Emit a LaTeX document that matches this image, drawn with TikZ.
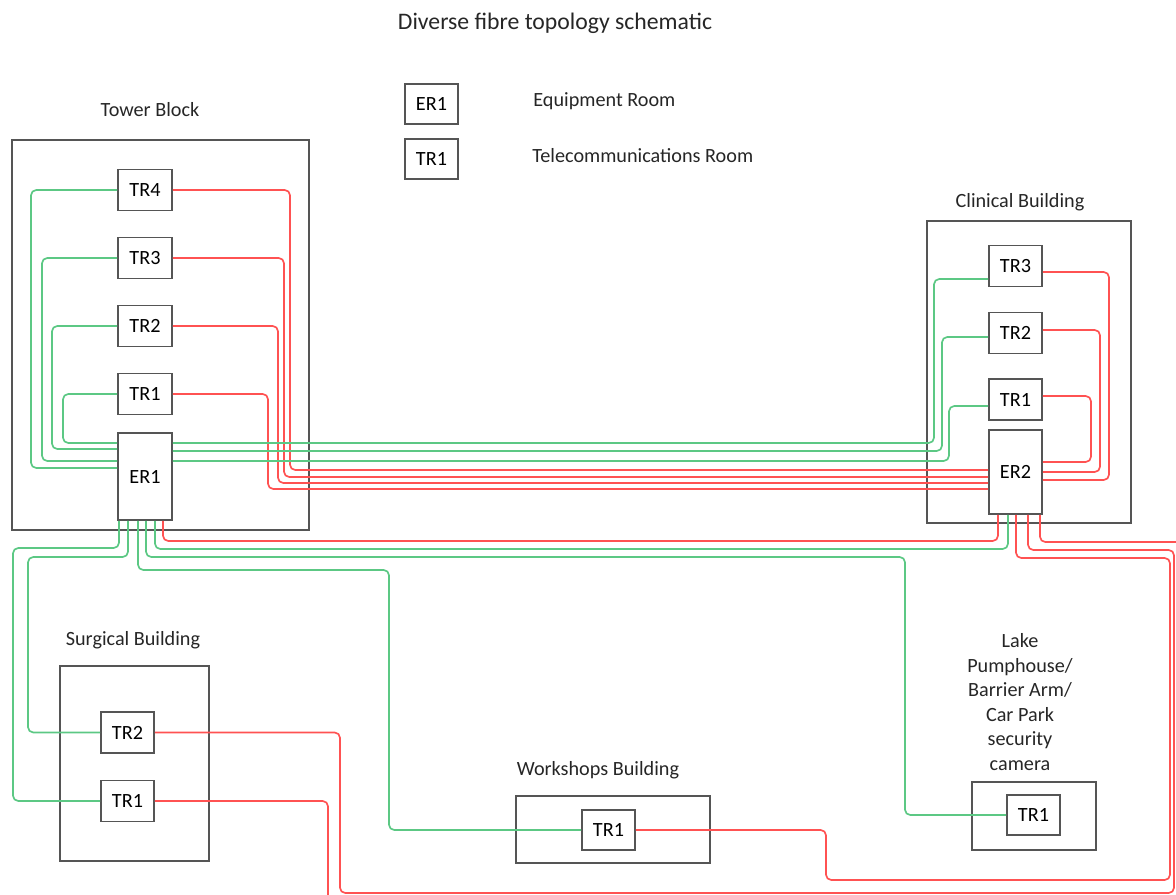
\documentclass[tikz,border=0pt]{standalone}
\usepackage{fontspec}
\setmainfont{Carlito}
\definecolor{fibregreen}{RGB}{92,200,132}
\definecolor{fibrered}{RGB}{255,82,82}
\definecolor{boxgrey}{RGB}{85,85,85}

\tikzset{
	room/.style={draw=boxgrey, fill=white, line width=1pt, inner sep=0pt,
		minimum width=1.08cm, minimum height=0.82cm},
	block/.style={draw=boxgrey, line width=1pt, inner sep=0pt},
	lbl/.style={text=black!85, inner sep=0pt},
	gline/.style={fibregreen, line width=0.95pt, rounded corners=3pt},
	rline/.style={fibrered, line width=0.95pt, rounded corners=3pt}
}

\begin{document}
\begin{tikzpicture}[x=0.02cm, y=-0.02cm, font=\fontsize{11.5}{14}\selectfont]
	\useasboundingbox (0,0) rectangle (1176,895);
	\clip (0,0) rectangle (1176,895);

	% title and legend
	\node [lbl, font=\fontsize{13.5}{16}\selectfont] (title) at (555,23) {Diverse fibre topology schematic};
	\node [room, minimum width=1.06cm, minimum height=0.8cm] (leger) at (431.5,104) {ER1};
	\node [room, minimum width=1.06cm, minimum height=0.8cm] (legtr) at (431.5,159) {TR1};
	\node [lbl, anchor=west] (legertxt) at (533,101) {Equipment Room};
	\node [lbl, anchor=west] (legtrtxt) at (532,156) {Telecommunications Room};

	% buildings
	\node [block, minimum width=5.94cm, minimum height=7.8cm] (tower) at (160.5,335) {};
	\node [lbl] (towerlbl) at (150,110) {Tower Block};
	\node [block, minimum width=4.08cm, minimum height=6.04cm] (clin) at (1029,372) {};
	\node [lbl] (clinlbl) at (1020,202) {Clinical Building};
	\node [block, minimum width=2.98cm, minimum height=3.9cm] (surg) at (134.5,763.5) {};
	\node [lbl] (surglbl) at (133,640) {Surgical Building};
	\node [block, minimum width=3.88cm, minimum height=1.34cm] (wshop) at (613,829.5) {};
	\node [lbl] (wshoplbl) at (598,770) {Workshops Building};
	\node [block, minimum width=2.48cm, minimum height=1.36cm] (lake) at (1034,816) {};
	\node [lbl, align=center, font=\fontsize{11.5}{13.95}\selectfont] (lakelbl) at (1020,702)
		{Lake\\Pumphouse/\\Barrier Arm/\\Car Park\\security\\camera};

	% rooms
	\node [room] (tr4) at (145,190) {TR4};
	\node [room] (tr3) at (145,258) {TR3};
	\node [room] (tr2) at (145,326) {TR2};
	\node [room] (tr1) at (145,394) {TR1};
	\node [room, minimum height=1.74cm] (er1) at (145,476.5) {ER1};

	\node [room, minimum width=1.06cm] (ctr3) at (1015.5,266) {TR3};
	\node [room, minimum width=1.06cm] (ctr2) at (1015.5,333) {TR2};
	\node [room, minimum width=1.06cm] (ctr1) at (1015.5,399.5) {TR1};
	\node [room, minimum width=1.06cm, minimum height=1.68cm] (er2) at (1015.5,472) {ER2};

	\node [room, minimum width=1.06cm] (str2) at (127.5,732.5) {TR2};
	\node [room, minimum width=1.06cm] (str1) at (127.5,801) {TR1};
	\node [room, minimum width=1.06cm, minimum height=0.8cm] (wtr1) at (608.5,830) {TR1};
	\node [room, minimum width=1.06cm, minimum height=0.8cm] (ltr1) at (1033.5,815) {TR1};

	% tower block fibres
	\draw [gline] (tr4.west) -| (31,468) -- (er1.west |- 0,468);
	\draw [gline] (tr3.west) -| (42,461) -- (er1.west |- 0,461);
	\draw [gline] (tr2.west) -| (52,449) -- (er1.west |- 0,449);
	\draw [gline] (tr1.west) -| (63,443) -- (er1.west |- 0,443);

	\draw [rline] (tr4.east) -| (290,470) -- (er2.west |- 0,470);
	\draw [rline] (tr3.east) -| (284,477) -- (er2.west |- 0,477);
	\draw [rline] (tr2.east) -| (278,483) -- (er2.west |- 0,483);
	\draw [rline] (tr1.east) -| (268,489) -- (er2.west |- 0,489);

	% tower block to clinical building
	\draw [gline] (er1.east |- 0,443) -| (934,279) -- (ctr3.west |- 0,279);
	\draw [gline] (er1.east |- 0,451) -| (942,337) -- (ctr2.west |- 0,337);
	\draw [gline] (er1.east |- 0,461) -| (949,406) -- (ctr1.west |- 0,406);

	\draw [rline] (ctr3.east |- 0,272) -| (1109,480) -- (er2.east |- 0,480);
	\draw [rline] (ctr2.east |- 0,330) -| (1100,472) -- (er2.east |- 0,472);
	\draw [rline] (ctr1.east |- 0,396) -| (1091,462) -- (er2.east |- 0,462);

	% out of ER1
	\draw [gline] (119,0 |- er1.south) |- (13,548) |- (str1.west);
	\draw [gline] (128,0 |- er1.south) |- (28,557) |- (str2.west);
	\draw [gline] (138,0 |- er1.south) |- (389,570) |- (wtr1.west);
	\draw [gline] (146,0 |- er1.south) |- (905,557) |- (ltr1.west);
	\draw [gline] (155,0 |- er1.south) |- (1008,549) -- (1008,0 |- er2.south);
	\draw [rline] (163,0 |- er1.south) |- (998,541) -- (998,0 |- er2.south);

	% out of ER2
	\draw [rline] (1016,0 |- er2.south) |- (1170,558) |- (826,880) |- (wtr1.east);
	\draw [rline] (1028,0 |- er2.south) |- (1174,550) |- (340,893) |- (str2.east);
	\draw [rline] (1040,0 |- er2.south) |- (1190,542) |- (328,910) |- (str1.east);
\end{tikzpicture}
\end{document}
